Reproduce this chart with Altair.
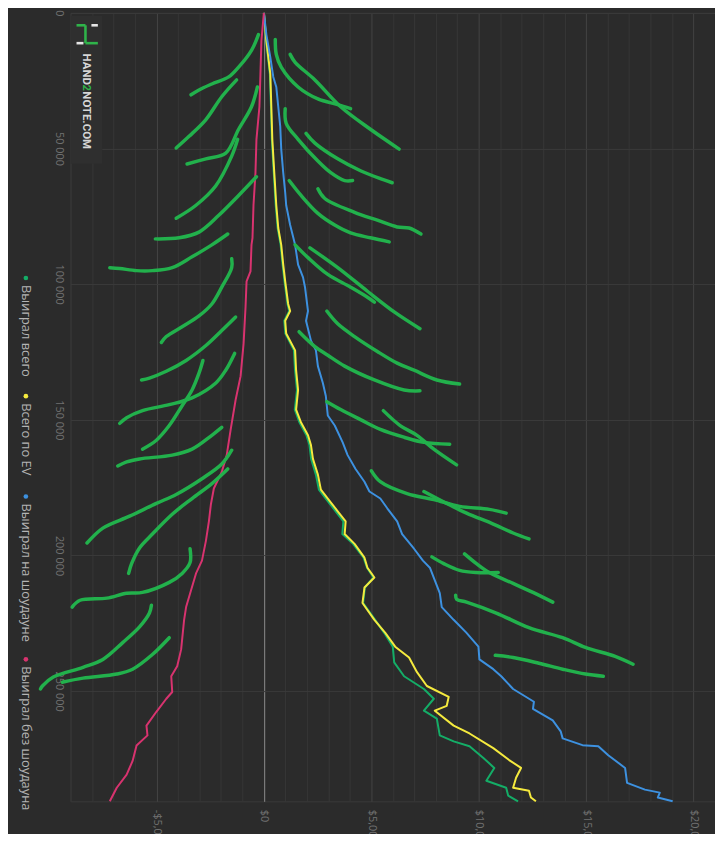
import altair as alt
import pandas as pd

# hands in thousands, result in dollars
total_pts = [(0, 0), (10.2, 100), (22.6, 280), (34.6, 330), (46.6, 370), (58.9, 460), (70.9, 550), (79.3, 640),
             (85.5, 780), (92.8, 870), (99.0, 960), (107.3, 1100), (109.9, 1180), (113.5, 950), (118.2, 1000),
             (124.4, 1400), (131.7, 1450), (139.0, 1540), (146.2, 1440), (151.0, 1660), (155.7, 1980), (159.3, 2120),
             (164.4, 2200), (170.2, 2420), (175.7, 2560), (179.0, 2880), (183.7, 3340), (187.4, 3700), (192.1, 3650),
             (195.7, 4150), (200.8, 4640), (204.5, 4800), (208.1, 5100), (211.8, 4700), (217.5, 4620), (223.7, 5180),
             (228.5, 5600), (233.6, 6000), (239.4, 6066), (244.5, 6527), (249.2, 7450), (252.8, 7911), (257.2, 7450),
             (260.1, 8050), (266.3, 8188), (268.5, 8834), (270.3, 9572), (274.6, 10218), (278.3, 10726), (283.0, 10356),
             (285.6, 11279), (288.5, 11371), (290.6, 11832)]
ev_pts = [(0, 0), (10.2, 115), (22.6, 300), (34.6, 346), (46.6, 392), (58.9, 484), (70.9, 577), (79.3, 669),
          (85.5, 807), (92.8, 900), (99.0, 992), (107.3, 1130), (109.9, 1222), (113.5, 992), (118.2, 1038),
          (124.4, 1453), (131.7, 1499), (139.0, 1592), (146.2, 1499), (151.0, 1730), (155.7, 2053), (159.3, 2191),
          (164.4, 2283), (170.2, 2514), (175.7, 2653), (179.0, 2975), (183.7, 3437), (187.4, 3806), (192.1, 3760),
          (195.7, 4221), (200.8, 4682), (204.5, 4821), (208.1, 5144), (211.8, 4682), (217.5, 4590), (223.7, 5144),
          (228.5, 5651), (233.6, 6112), (237.6, 6758), (243.0, 7127), (248.1, 7588), (252.1, 8603), (255.4, 8511),
          (257.2, 7957), (262.7, 8834), (265.6, 9572), (271.0, 10679), (275.4, 11417), (278.3, 11971), (281.9, 11740),
          (285.6, 11602), (286.7, 12340), (289.2, 12432), (290.6, 12663)]
sd_pts = [(0, 0), (8.0, 115), (16.4, 300), (23.6, 438), (27.3, 577), (34.6, 669), (41.8, 761), (50.2, 807),
          (58.9, 900), (66.2, 992), (70.9, 1038), (78.2, 1222), (85.5, 1453), (92.8, 1592), (97.5, 1822), (101.1, 1914),
          (109.9, 2053), (113.5, 1961), (120.8, 2191), (124.4, 2422), (130.2, 2514), (136.4, 2745), (141.2, 2883),
          (148.4, 2975), (152.1, 3298), (158.3, 3667), (163.0, 3898), (168.1, 4267), (172.8, 4682), (176.4, 4913),
          (179.0, 5420), (182.6, 5743), (187.4, 6204), (192.1, 6435), (197.5, 6989), (201.9, 7404), (204.5, 7727),
          (209.2, 7957), (213.9, 8188), (219.0, 8280), (223.7, 8834), (228.5, 9434), (233.6, 9987), (238.3, 10033),
          (241.9, 10679), (244.5, 11048), (249.2, 11602), (253.9, 12571), (256.5, 12525), (260.8, 13447),
          (264.8, 13816), (267.4, 13908), (269.9, 14831), (270.3, 15569), (273.6, 16030), (278.3, 16814),
          (283.8, 16907), (286.3, 17737), (287.4, 18429), (289.2, 18337), (290.6, 19029)]
nosd_pts = [(0, 0), (10.2, -115), (22.6, -161), (34.6, -208), (46.6, -346), (58.9, -392), (70.9, -484), (82.9, -530),
            (85.5, -577), (95.3, -623), (99.0, -807), (108.2, -853), (121.9, -946), (133.9, -1084), (142.6, -1315),
            (153.5, -1545), (163.0, -1730), (169.2, -1961), (175.3, -2330), (181.2, -2468), (187.4, -2560),
            (194.6, -2699), (201.9, -2883), (206.6, -3160), (212.8, -3391), (219.0, -3621), (223.7, -3714),
            (234.6, -3852), (240.8, -4036), (244.5, -4313), (250.3, -4267), (252.8, -4544), (257.6, -5005),
            (262.7, -5466), (266.3, -5420), (270.0, -5928), (275.7, -6112), (280.8, -6389), (285.6, -6850),
            (290.6, -7173)]

series_names = ["Выиграл всего", "Всего по EV", "Выиграл на шоудауне", "Выиграл без шоудауна"]
series_colors = ["#14ad67", "#f5ea3e", "#3d91e0", "#d8336f"]

# the hand drawn branches of the "tree"
left_branches = [
    [(8.0, -254), (13.8, -577), (20.0, -1176), (23.6, -1638), (26.2, -2422), (28.4, -3021), (30.2, -3391)],
    [(24.7, -1269), (30.9, -1961), (39.3, -2699), (45.5, -3483), (49.8, -4083)],
    [(27.3, -300), (34.6, -577), (42.9, -1176), (51.7, -1776), (53.8, -2699), (55.7, -3575)],
    [(46.6, -1222), (52.8, -1499), (63.7, -2237), (70.9, -3160), (75.7, -4083)],
    [(60.4, -346), (67.3, -1176), (74.6, -2099), (80.8, -3021), (82.9, -3944), (83.3, -5051)],
    [(81.5, -1684), (85.5, -2422), (89.9, -3344), (93.9, -4267), (95.0, -5190), (95.0, -5928), (94.2, -6712), (93.9, -7173)],
    [(90.6, -1499), (93.9, -1499), (101.1, -1961), (107.3, -2422), (111.7, -3021), (115.7, -3806), (119.3, -4544), (121.5, -4774)],
    [(112.1, -1315), (117.1, -1961), (122.6, -2699), (128.1, -3621), (132.1, -4544), (134.6, -5328), (135.3, -5697)],
    [(125.5, -1361), (131.7, -1776), (136.4, -2237), (141.9, -3344), (144.4, -4405), (146.6, -5651), (149.2, -6389), (151.3, -6712)],
    [(128.1, -2837), (132.8, -3021), (139.0, -3344), (144.8, -3806), (152.1, -4405), (157.5, -5005), (160.8, -5651)],
    [(152.8, -1961), (155.7, -2422), (160.8, -3344), (163.0, -4267), (164.4, -5789), (165.5, -6389), (167.0, -6804)],
    [(161.2, -1499), (166.3, -1961), (171.7, -2883), (177.5, -4083), (180.8, -5005), (185.5, -6251), (189.9, -7496), (195.4, -8234)],
    [(168.1, -1684), (173.5, -2422), (179.0, -3344), (184.8, -4267), (192.1, -5190), (197.2, -5789), (203.0, -6158), (206.6, -6297)],
    [(197.5, -3437), (202.6, -3437), (206.6, -3806), (209.9, -4405), (213.6, -5651), (213.9, -6389), (215.7, -7312), (216.5, -8557), (219.0, -8926)],
    [(218.3, -5236), (221.2, -5328), (226.3, -5789), (232.1, -6573), (238.3, -7496), (241.2, -8419), (244.8, -9803), (248.1, -10310), (249.2, -10402)],
    [(230.3, -4405), (236.5, -5190), (241.9, -6112), (243.7, -6850), (245.2, -8419), (246.7, -9387)],
]
right_branches = [
    [(9.8, 530), (15.3, 577), (20.0, 807), (27.3, 1592), (31.7, 2514), (33.8, 3437), (35.3, 4036)],
    [(15.3, 1222), (18.2, 1453), (24.7, 2376), (34.6, 3575), (42.9, 4959), (50.2, 6297)],
    [(35.3, 992), (40.7, 1038), (46.6, 1592), (54.6, 2514), (58.9, 3114), (61.8, 3760), (61.8, 4129)],
    [(44.4, 1961), (48.0, 2376), (53.8, 3437), (58.2, 4498), (61.1, 5420), (62.6, 5974)],
    [(61.8, 1176), (67.3, 1730), (73.9, 2514), (78.2, 3298), (81.1, 4036), (82.9, 4959), (84.4, 5835)],
    [(64.8, 2514), (68.4, 2837), (73.5, 4221), (76.4, 5282), (78.9, 6204), (79.3, 6758), (81.5, 7312)],
    [(85.5, 1453), (90.2, 2053), (96.4, 2975), (101.1, 4036), (104.8, 4821), (106.6, 5144)],
    [(86.6, 2145), (93.9, 3437), (102.6, 4821), (110.2, 6066), (116.4, 7265)],
    [(109.9, 2929), (114.6, 3437), (119.3, 4221), (124.8, 5282), (129.1, 6204), (131.7, 6989), (135.3, 8050), (136.8, 9111)],
    [(117.5, 1638), (123.0, 2376), (126.2, 2975), (130.2, 3760), (135.3, 5144), (139.0, 6527), (139.3, 7265)],
    [(143.3, 2929), (146.2, 3575), (149.9, 4498), (153.5, 5420), (156.4, 6527), (158.3, 7450), (159.0, 8650)],
    [(146.6, 5559), (152.1, 6343), (155.7, 7127), (160.8, 7911), (166.6, 8972)],
    [(168.8, 5005), (172.8, 5420), (177.2, 6666), (179.4, 7911), (181.9, 9111), (183.0, 10495), (184.4, 11279)],
    [(176.4, 7450), (180.8, 8511), (184.4, 9434), (188.4, 10679), (191.7, 11602), (193.9, 12340)],
    [(200.5, 7819), (203.0, 8373), (205.5, 9111), (206.3, 9895), (206.3, 10910)],
    [(199.4, 9341), (203.0, 9895), (206.3, 10495), (210.3, 11602), (213.6, 12525), (217.2, 13447)],
    [(214.6, 8926), (216.1, 8972), (217.2, 9434), (221.2, 10818), (226.6, 12340), (230.3, 13908), (233.9, 14969), (237.2, 16353), (240.1, 17183)],
    [(236.8, 10771), (237.6, 11602), (239.7, 12801), (241.9, 13908), (243.7, 14969), (244.5, 15800)],
]

hand_ticks = [0, 50000, 100000, 150000, 200000, 250000]
usd_grid = list(range(-9000, 21001, 1000))

rows = []
for name, pts in zip(series_names, [total_pts, ev_pts, sd_pts, nosd_pts]):
    for i, (h, u) in enumerate(pts):
        rows.append({"series": name, "hands": h * 1000, "usd": u, "i": i})
lines = pd.DataFrame(rows)

brows = []
for b, pts in enumerate(left_branches + right_branches):
    for i, (h, u) in enumerate(pts):
        brows.append({"b": b, "hands": h * 1000, "usd": u, "i": i})
branches = pd.DataFrame(brows)

FONT = "Open Sans"
x_axis = alt.Axis(values=usd_grid, title=None, ticks=False, domain=False, labelAngle=90, labelAlign="left",
    labelBaseline="middle", labelPadding=8, labelColor="#717171", labelFont=FONT, labelFontSize=11, labelOverlap=False,
    labelExpr="datum.value % 5000 === 0 ? (datum.value < 0 ? '-$' : '$') + format(abs(datum.value), ',') : ''",
    gridColor={"condition": [{"test": "datum.value === 0", "value": "#8c8c8c"},
                             {"test": "datum.value % 5000 === 0", "value": "#444444"}], "value": "#363636"})
y_axis = alt.Axis(values=hand_ticks, title=None, ticks=False, domain=False, labelAngle=90, labelAlign="center",
    labelBaseline="top", labelPadding=6, labelColor="#717171", labelFont=FONT, labelFontSize=11, labelOverlap=False,
    labelExpr="replace(format(datum.value, ','), ',', ' ')", gridColor="#3a3a3a")

X = alt.X("usd:Q", scale=alt.Scale(domain=[-9000, 21000], nice=False, zero=False), axis=x_axis)
Y = alt.Y("hands:Q", scale=alt.Scale(domain=[0, 290600], nice=False, reverse=True), axis=y_axis)

series_layer = alt.Chart(lines).mark_line(strokeWidth=2, strokeJoin="round").encode(
    x=X, y=Y, order="i:Q",
    color=alt.Color("series:N", scale=alt.Scale(domain=series_names, range=series_colors), legend=None))

branch_layer = alt.Chart(branches).mark_line(strokeWidth=3.5, strokeCap="round", strokeJoin="round",
    interpolate="catmull-rom", color="#22b14c").encode(x=X, y=Y, order="i:Q", detail="b:N")

one = pd.DataFrame({"a": [0]})
deco = []

# legend drawn by hand so that its labels can be turned like the rest
for name, col, ly in zip(series_names, series_colors, [267, 386, 487, 651]):
    deco.append(alt.Chart(one).mark_circle(size=22, opacity=1, color=col).encode(x=alt.value(-45), y=alt.value(ly)))
    deco.append(alt.Chart(one).mark_text(angle=90, align="left", baseline="middle", font=FONT, fontSize=13,
        color="#b4b4b4").encode(x=alt.value(-45), y=alt.value(ly + 7), text=alt.value(name)))

# HAND2NOTE logo
deco.append(alt.Chart(one).mark_rect(color="#2f2f2f").encode(x=alt.value(0), x2=alt.value(32), y=alt.value(3), y2=alt.value(152)))
for x1, x2, y1, y2, col in [(6, 15, 12.5, 12.5, "#2fb34a"), (15, 15, 12.5, 30.5, "#2fb34a"), (15, 27.5, 30.5, 30.5, "#2fb34a"),
                            (21, 27.5, 12.5, 12.5, "#e6e6e6"), (6, 13, 30.5, 30.5, "#e6e6e6")]:
    deco.append(alt.Chart(one).mark_rule(strokeWidth=2.6, color=col).encode(
        x=alt.value(x1), x2=alt.value(x2), y=alt.value(y1), y2=alt.value(y2)))
for txt, ty, col in [("HAND", 41, "#d6d6d6"), ("2", 72, "#2fb34a"), ("NOTE.COM", 79, "#d6d6d6")]:
    deco.append(alt.Chart(one).mark_text(angle=90, align="left", baseline="middle", font="Roboto", fontSize=11.5,
        fontWeight="bold", color=col).encode(x=alt.value(15.5), y=alt.value(ty), text=alt.value(txt)))

chart = alt.layer(series_layer, branch_layer, *deco).properties(
    width=649, height=794, background="#2b2b2b",
    padding={"left": 63, "top": 2, "right": 0, "bottom": 30}, autosize="none"
).configure_view(stroke="#3a3a3a", fill="#2b2b2b")

chart.save("out.html", embed_options={"renderer": "svg", "actions": False})
